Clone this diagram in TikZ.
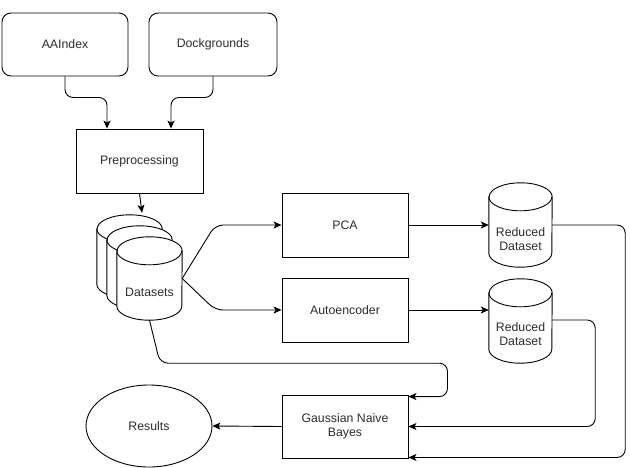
\documentclass[tikz,border=0pt]{standalone}
\usepackage{fontspec}
\setmainfont{Liberation Sans}
\usetikzlibrary{arrows.meta,calc,shapes.geometric}
\definecolor{txtc}{RGB}{45,45,45}
\tikzset{
  lw/.style={line width=0.9pt},
  lblfont/.style={font=\fontsize{12.3}{14}\selectfont, text=txtc, align=center},
  box/.style={draw, lw, fill=white, minimum width=126pt, minimum height=64pt, inner sep=0pt, lblfont},
  srcbox/.style={box, rounded corners=9pt},
  cylph/.style={draw=none, minimum width=#1, minimum height=84pt, inner sep=0pt},
  cylph/.default=63pt,
  lbl/.style={lblfont, inner sep=0pt},
  conn/.style={draw, lw, rounded corners=8pt, -{Stealth[length=8pt,width=7pt,inset=2pt]}},
  cylline/.style={draw, lw, fill=white},
}
\newcommand{\mycyl}[2]{%
  \path[cylline] ($(#1.north west)+(0,14)$) -- ($(#1.south west)+(0,-14)$)
    arc[start angle=180,end angle=360,x radius=#2,y radius=14pt]
    -- ($(#1.north east)+(0,14)$)
    arc[start angle=0,end angle=180,x radius=#2,y radius=14pt] -- cycle;
  \draw[lw] ($(#1.north west)+(0,14)$)
    arc[start angle=180,end angle=360,x radius=#2,y radius=14pt];
}
\begin{document}
\begin{tikzpicture}[x=1pt,y=-1pt]
\useasboundingbox (0,0) rectangle (630,467);
% sources
\node[srcbox, minimum width=126pt, minimum height=63pt] (aa) at (65,44.5) {AAIndex};
\node[srcbox, minimum width=128pt, minimum height=63pt] (dock) at (213,44.5) {Dockgrounds};
\node[box, minimum width=127pt] (pre) at (139.5,161) {Preprocessing};
% datasets stack
\node[cylph=65pt, minimum height=83pt] (ds3) at (129.5,256.5) {};
\node[cylph=65pt, minimum height=83pt] (ds2) at (139.5,267.5) {};
\node[cylph=65pt, minimum height=83pt] (ds) at (149.5,278.5) {};
\mycyl{ds3}{32.5pt}
\mycyl{ds2}{32.5pt}
\mycyl{ds}{32.5pt}
\node[lbl] at ($(ds.center)+(0,14)$) {Datasets};
% processing boxes
\node[box] (pca) at (345,225) {PCA};
\node[box] (ae) at (345,310) {Autoencoder};
\node[box, minimum height=63pt] (gnb) at (345,426.5) {Gaussian Naive\\Bayes};
\node[draw, lw, ellipse, minimum width=126pt, minimum height=82pt, inner sep=0pt, lblfont] (res) at (149,426) {Results};
% reduced datasets
\node[cylph] (r1) at (520.5,225) {};
\node[cylph] (r2) at (520.5,321) {};
\mycyl{r1}{31.5pt}
\mycyl{r2}{31.5pt}
\node[lbl] at ($(r1.center)+(0,14)$) {Reduced\\Dataset};
\node[lbl] at ($(r2.center)+(0,13)$) {Reduced\\Dataset};
% helper coordinates
\coordinate (k1) at ([xshift=33pt]ds.east);
\coordinate (k2) at ([xshift=10.5pt,yshift=-43pt]ds.south);
\coordinate (kx) at ([xshift=39pt,yshift=-2pt]gnb.north east);
\coordinate (kb) at ([yshift=1pt]gnb.south east);
\coordinate (kr1) at ([xshift=73pt]r1.east);
\coordinate (kr2) at ([xshift=43pt]r2.east);
% connectors
\draw[conn] (aa.south) -- ++(0,21) -| ($(pre.north)+(-32.5,0)$);
\draw[conn] (dock.south) -- ++(0,21) -| ($(pre.north)+(31.5,0)$);
\draw[conn] (pre.south) -- ($(ds3.north)+(12.5,-2)$);
\draw[conn] (ds.east) -- (k1 |- pca.west) -- (pca.west);
\draw[conn] (ds.east) -- (k1 |- ae.west) -- (ae.west);
\draw[conn] (ds.south) -- (k2) -- (k2 -| kx) -- (kx) -- ([yshift=-2pt]gnb.north east);
\draw[conn] (pca.east) -- (r1.west);
\draw[conn] (ae.east) -- (ae.east -| r2.west);
\draw[conn] (r1.east) -- (kr1) -- (kr1 |- kb) -- (kb);
\draw[conn] ([yshift=1pt]r2.east) -- ([yshift=1pt]kr2) |- (gnb.east);
\draw[conn] (gnb.west) -- (res.east);
\end{tikzpicture}
\end{document}
